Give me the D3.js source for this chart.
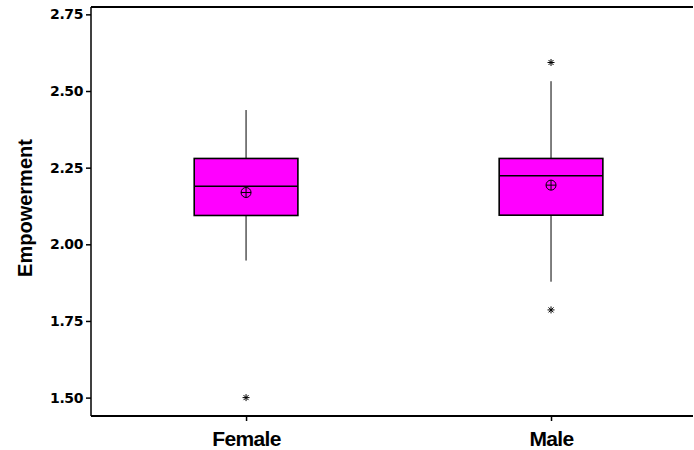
<!DOCTYPE html>
<html>
<head>
<meta charset="utf-8">
<script src="https://cdn.jsdelivr.net/npm/d3@7"></script>
<style>
  html, body { margin: 0; padding: 0; background: #fff; }
  svg { display: block; }
</style>
</head>
<body>
<svg id="chart" width="694" height="450"></svg>
<script>
// Empowerment by gender: box summaries
const groups = ["Female", "Male"];
const whiskerLow = [1.947, 1.878];
const q1 = [2.094, 2.095];
const median = [2.189, 2.224];
const q3 = [2.280, 2.280];
const whiskerHigh = [2.438, 2.532];
const means = [2.169, 2.193];
const outliers = [[1.50], [1.786, 2.593]];
const yTicks = [1.50, 1.75, 2.00, 2.25, 2.50, 2.75];

(function () {
  const svg = d3.select("#chart");
  const plotL = 91, plotR = 693, plotT = 7, plotB = 416;

  const x = d3.scalePoint().domain(groups).range([plotL, plotR]).padding(0.487).align(0.522);
  const y = d3.scaleLinear().domain([1.44, 2.774]).range([plotB, plotT]);
  const boxW = x.step() * 0.34;

  const rows = groups.map((g, i) => ({
    g, lo: whiskerLow[i], q1: q1[i], med: median[i], q3: q3[i], hi: whiskerHigh[i],
    mean: means[i], out: outliers[i]
  }));

  // frame: top and bottom lines
  svg.append("line").attr("x1", plotL).attr("x2", plotR).attr("y1", plotT).attr("y2", plotT)
    .attr("stroke", "#000").attr("stroke-width", 2);
  svg.append("line").attr("x1", plotL).attr("x2", plotR).attr("y1", plotB).attr("y2", plotB)
    .attr("stroke", "#000").attr("stroke-width", 2);

  // y axis
  const yAxis = svg.append("g").attr("transform", `translate(${plotL},0)`)
    .call(d3.axisLeft(y).tickValues(yTicks).tickFormat(d3.format(".2f")).tickSize(5).tickSizeOuter(0));
  yAxis.select(".domain").attr("stroke-width", 1.5).attr("d", `M0,${plotT}V${plotB}`);
  yAxis.selectAll(".tick line").attr("stroke-width", 1.5);
  yAxis.selectAll(".tick text")
    .attr("x", -8)
    .attr("font-family", "DejaVu Sans")
    .attr("font-weight", "bold")
    .attr("font-size", 14)
    .attr("letter-spacing", -0.4)
    .attr("fill", "#000");

  // x axis
  const xAxis = svg.append("g").attr("transform", `translate(0,${plotB})`)
    .call(d3.axisBottom(x).tickSize(5).tickSizeOuter(0));
  xAxis.select(".domain").remove();
  xAxis.selectAll(".tick line").attr("stroke-width", 1.5);
  xAxis.selectAll(".tick text")
    .attr("y", 30).attr("dy", 0)
    .attr("font-family", "Liberation Sans, Arial, sans-serif")
    .attr("font-weight", "bold")
    .attr("font-size", 21)
    .attr("letter-spacing", -0.6)
    .attr("fill", "#000");

  // y title
  svg.append("text")
    .attr("transform", `translate(32,208) rotate(-90)`)
    .attr("text-anchor", "middle")
    .attr("font-family", "Liberation Sans, Arial, sans-serif")
    .attr("font-weight", "bold")
    .attr("font-size", 20)
    .attr("fill", "#000")
    .text("Empowerment");

  const box = svg.append("g").selectAll("g").data(rows).join("g")
    .attr("transform", d => `translate(${x(d.g)},0)`);

  // whiskers
  box.append("line").attr("x1", 0).attr("x2", 0)
    .attr("y1", d => y(d.hi)).attr("y2", d => y(d.q3))
    .attr("stroke", "#000").attr("stroke-width", 1);
  box.append("line").attr("x1", 0).attr("x2", 0)
    .attr("y1", d => y(d.q1)).attr("y2", d => y(d.lo))
    .attr("stroke", "#000").attr("stroke-width", 1);

  // box
  box.append("rect")
    .attr("x", -boxW / 2).attr("width", boxW)
    .attr("y", d => y(d.q3)).attr("height", d => y(d.q1) - y(d.q3))
    .attr("fill", "#ff00ff").attr("stroke", "#000").attr("stroke-width", 1.6);

  // median
  box.append("line").attr("x1", -boxW / 2).attr("x2", boxW / 2)
    .attr("y1", d => y(d.med)).attr("y2", d => y(d.med))
    .attr("stroke", "#000").attr("stroke-width", 1.5);

  // mean: circle with cross
  const meanG = box.append("g").attr("transform", d => `translate(0,${y(d.mean)})`);
  meanG.append("circle").attr("r", 5).attr("fill", "none").attr("stroke", "#000").attr("stroke-width", 1);
  meanG.append("path").attr("d", "M-5,0H5M0,-5V5").attr("stroke", "#000").attr("stroke-width", 1);

  // outliers
  box.selectAll(".out").data(d => d.out).join("path")
    .attr("class", "out")
    .attr("transform", v => `translate(0,${y(v)})`)
    .attr("d", "M-3.5,0H3.5M0,-3.5V3.5M-2.5,-2.5L2.5,2.5M-2.5,2.5L2.5,-2.5")
    .attr("stroke", "#000").attr("stroke-width", 1).attr("fill", "none");
})();
</script>
</body>
</html>
